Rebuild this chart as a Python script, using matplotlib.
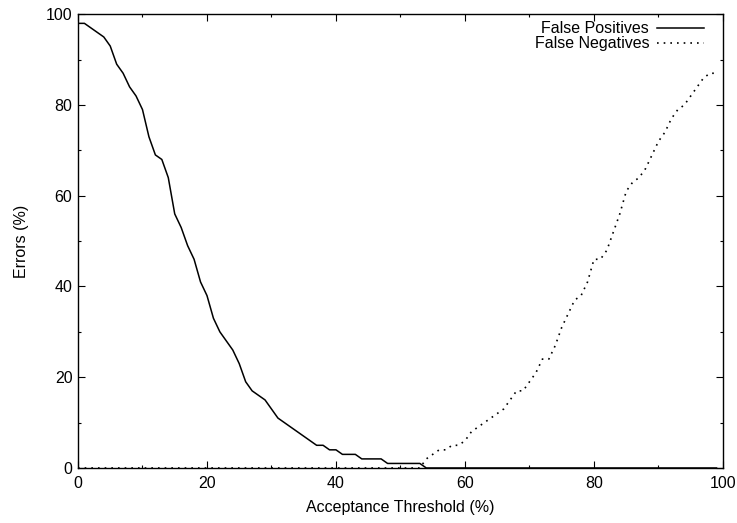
import matplotlib
matplotlib.use("Agg")
import matplotlib.pyplot as plt
from matplotlib.ticker import MultipleLocator

# acceptance threshold, one point per percent
threshold = list(range(0, 100))

false_pos = [98, 98, 97, 96, 95, 93, 89, 87, 84, 82,
             79, 73, 69, 68, 64, 56, 53, 49, 46, 41,
             38, 33, 30, 28, 26, 23, 19, 17, 16, 15,
             13, 11, 10, 9, 8, 7, 6, 5, 5, 4,
             4, 3, 3, 3, 2, 2, 2, 2, 1, 1,
             1, 1, 1, 1] + [0] * 46

false_neg = [0] * 54 + [2, 3, 4, 4, 5, 5,
             6, 8, 9, 10, 11, 12, 13, 15, 17, 17,
             19, 21, 24, 24, 27, 31, 34, 37, 38, 41,
             46, 46, 48, 52, 56, 61, 63, 64, 66, 69,
             72, 74, 77, 79, 80, 82, 84, 86, 87, 87]

plt.rcParams['font.family'] = ['Liberation Sans', 'DejaVu Sans']
plt.rcParams['font.size'] = 11.5

fig = plt.figure(figsize=(7.37, 5.23), dpi=100)
ax = fig.add_axes([0.1058, 0.1052, 0.8752, 0.8675])

ax.plot(threshold, false_pos, color='black', lw=1.1, label='False Positives')
ax.plot(threshold, false_neg, color='black', lw=1.2, linestyle=(0, (1, 3)),
        label='False Negatives')

ax.set_xlim(0, 100)
ax.set_ylim(0, 100)
ax.xaxis.set_major_locator(MultipleLocator(20))
ax.xaxis.set_minor_locator(MultipleLocator(10))
ax.yaxis.set_major_locator(MultipleLocator(20))
ax.yaxis.set_minor_locator(MultipleLocator(10))
ax.tick_params(which='both', direction='in', top=True, right=True)
ax.tick_params(which='major', length=5, width=0.8, pad=4)
ax.tick_params(axis='x', which='major', pad=6)
ax.tick_params(which='minor', length=2.5, width=0.8)
for s in ax.spines.values():
    s.set_linewidth(1.0)

ax.set_xlabel("Acceptance Threshold (%)", labelpad=6)
ax.set_ylabel("Errors (%)", labelpad=12)

ax.legend(loc='upper right', frameon=False, markerfirst=False,
          handlelength=2.9, borderaxespad=0.1, labelspacing=0.0,
          handletextpad=0.5, borderpad=0.35,
          bbox_to_anchor=(0.981, 1.0))

fig.savefig("out.png", dpi=100)
